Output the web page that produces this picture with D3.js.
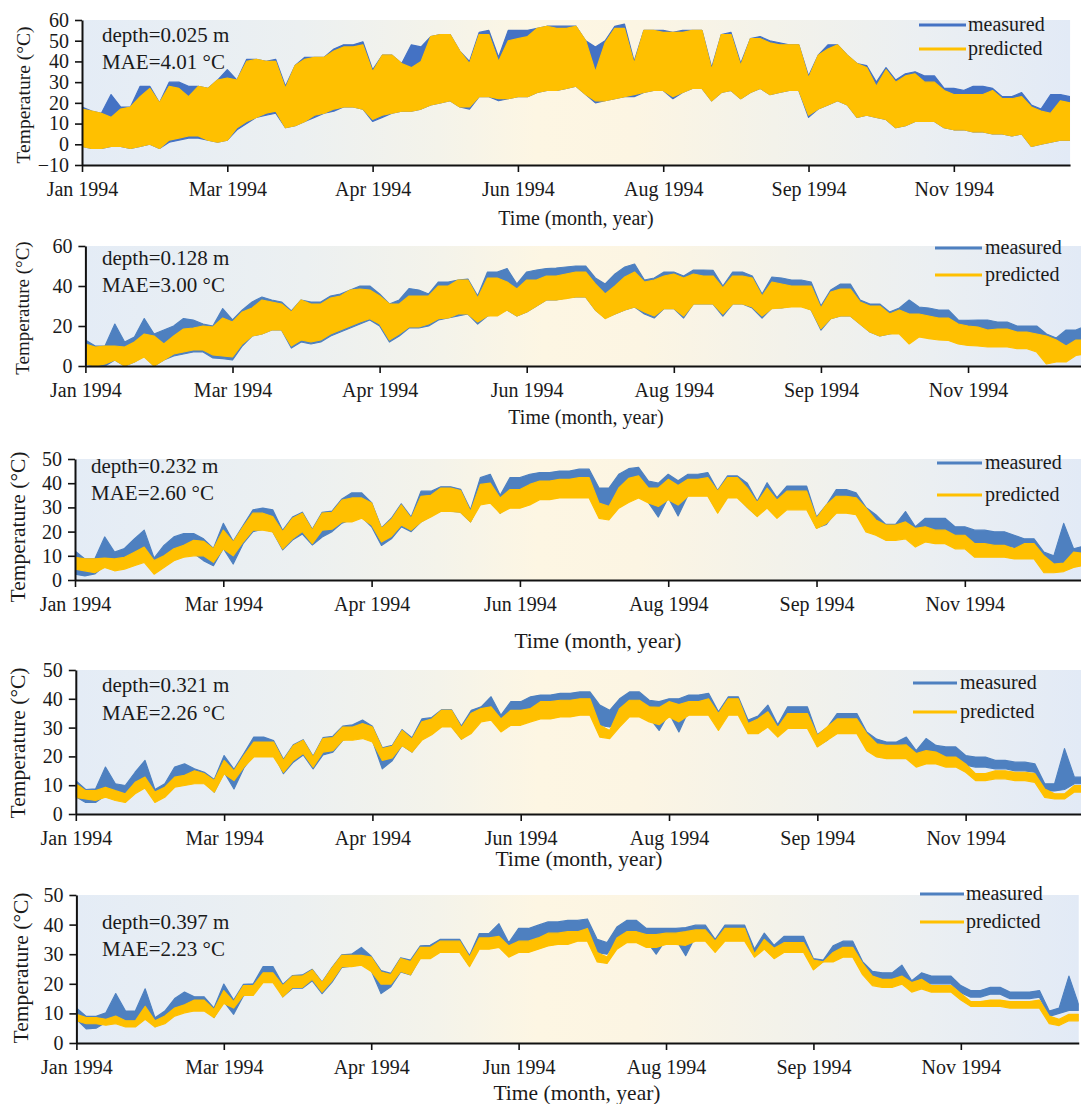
<!DOCTYPE html>
<html>
<head>
<meta charset="utf-8">
<script src="https://cdn.jsdelivr.net/npm/d3@7"></script>
<style>
  html, body { margin: 0; padding: 0; background: #ffffff; }
  svg { display: block; font-family: "Liberation Serif", "Times New Roman", serif; }
</style>
</head>
<body>
<svg id="chart" width="1081" height="1104"></svg>
<script>
// ---- shared axis content ----
const monthLabels = ["Jan 1994", "Mar 1994", "Apr 1994", "Jun 1994", "Aug 1994", "Sep 1994", "Nov 1994"];
const monthTickIndex = [0, 15, 30, 45, 60, 75, 90];
const lastIndex = 102;
const depthLabels = ["0.025", "0.128", "0.232", "0.321", "0.397"];
const maeLabels = ["4.01", "3.00", "2.60", "2.26", "2.23"];
const yDomains = [[-10, 60], [0, 60], [0, 50], [0, 50], [0, 50]];
const yTickValues = [
  [-10, 0, 10, 20, 30, 40, 50, 60],
  [0, 20, 40, 60],
  [0, 10, 20, 30, 40, 50],
  [0, 10, 20, 30, 40, 50],
  [0, 10, 20, 30, 40, 50]
];
const seriesNames = ["measured", "predicted"];

// ---- depth 0.025 m: daily high / low envelopes (°C) ----
const measuredHigh1 = [18,16,15,24,18,18,28,28,20,30,
  30,28,28,27,31,36,31,41,41,40,
  41,28,38,42,42,42,46,48,48,49.5,
  36,43,43,39,48,47,52,53,53,45,
  40,54,55,42,55,55,55,56,57,57,
  57,57,50,47,50,57,58,40,55,55,
  55,54,55,55,55,37,53,54,39,51,
  52,50,49,48,48,33,43,48,48,43,
  39,38,30,37,31,34,35,33,33,27,
  27,26,28,28,27,23,23,25,19,17,
  24,24,23];
const measuredLow1 = [-1,-2,-2,-1,-1,-2,-1,0,-2,1,
  2,3,3,2,1,2,7,10,13,14,
  15,8,9,11,13,15,16,18,18,17,
  11,13,15,16,16,17,19,20,21,18,
  17,23,23,21,22,23,23,25,26,26,
  27,28,24,20,21,22,23,23,25,26,
  26,22,25,27,27,21,25,26,22,25,
  27,24,25,26,26,13,17,19,21,19,
  13,14,13,12,8,9,11,11,11,8,
  7,7,6,6,5,5,4,5,-1,0,
  1,2,2];
const predictedHigh1 = [17,16,15,13,17,18,23,27,20,28,
  27,23,28,27,31,32,31,40,41,40,
  40,27,38,41,42,42,45,47,47,48,
  35,43,43,39,37,40,52,53,53,45,
  39,53,53,40,50,51,52,56,57,56,
  56,57,50,35,49,56,56,39,55,55,
  54,54,54,55,55,36,53,53,38,51,
  51,49,48,48,48,32,43,46,48,43,
  39,37,28,36,30,33,34,30,30,26,
  24,24,24,24,26,22,22,23,18,16,
  15,21,20];
const predictedLow1 = [-1,-2,-2,-1,-1,-2,-1,0,-2,2,
  3,4,4,2,1,2,8,11,13,15,
  16,8,9,11,14,15,17,18,18,17,
  12,14,15,16,16,17,19,20,21,18,
  18,23,23,22,22,23,23,25,26,26,
  27,28,24,21,21,22,23,24,25,26,
  26,23,25,27,27,21,25,26,22,25,
  27,24,25,26,26,14,17,19,21,19,
  13,14,13,12,8,9,11,11,11,8,
  7,7,6,6,5,5,4,5,-1,0,
  1,2,2];

// ---- depth 0.128 m ----
const measuredHigh2 = [13,10,10,21,12,14.5,23.7,16,18,20,
  23.7,23,21,20,28.7,23,28,32,34.5,33,
  32,27.5,33,32,32,35,36,38,40,40,
  36,31,33,38.7,38,36,42,42,43,43.5,
  35,47,47,48.7,41,47,48,48.7,49,49.5,
  50,50,44,41,46,49.5,51,43,44,47,
  47,45,48,48,47.8,40,47,47,45,36,
  44.5,44,43,43,42,30,38,41,41,33,
  31,31,27,29,33,29.5,29,28,28,23,
  22.8,23,23,22,22,20,20,20,16,14,
  18,18,20];
const measuredLow2 = [1,0,0,3,0,2,5,0,3,5,
  6,7,7,4,3.7,3,10,15,16,18,
  18,9,12,11,12,15,17,19,21,23,
  20,12,15,19,19,20,23,24,25,26,
  21,25,26,28,25,27,30,33,33,34,
  34.5,34.5,28,24,26,28,29.5,26,24,28.7,
  28.7,24,31,31,31,25,31,31,29,24,
  29,29,30,30,28,18,23.7,25,25,21,
  17,15,16,17,12,15,14,14,13,12,
  12,12,12,12,11,11,11,9,2,4,
  5,8,9];
const predictedHigh2 = [11,9.5,10,10,9.5,12,16,15,11,15,
  18.5,19,20,19.5,24,22,27,29,33,32,
  31,27,33,31,31,34,35,38,38.5,38,
  35,31,31,35,35,35,40,40,43,43,
  34,44,44,42,38.5,43,43,45,45,46,
  47,47,41,36,40,44.5,47,42,43,45,
  46,44,46,45,45,39,45,45,44,35,
  42,41,40,40,40,29,37,38.5,38.5,32,
  30,30,26,28,26,26,25,24,24,21,
  20,19.5,18,18.5,18.5,17,17,16,15,13,
  10,13,13];
const predictedLow2 = [1,0,1,3,0,2,4.5,0,3,6,
  7,8,8,5.5,5,4.5,11,15,16,18,
  18,10,13,12,13,16,18,20,22,23.7,
  21,13,16,19.5,19.5,21,23.7,24,26,26,
  22,25,25,28,25,27,30,33,33,33.7,
  34.5,34.5,28,23.7,26,28,29.5,27,25,28.7,
  28.7,25,31,31,31,26,31,31,29.5,25,
  28.7,29,29.5,29.5,28,18.7,23.7,25,25,21,
  17,15,16,16,11,14.5,13.7,13,12.8,11,
  10.3,10,9.5,9.5,9.5,8.7,8.7,7,1,2,
  2,5.3,6];

// ---- depth 0.232 m ----
const measuredHigh3 = [12,8.7,8.7,17.8,11.5,13,17,20.6,9,14.3,
  17.8,19.2,19.2,17,13,23.4,16,22.5,29,29.7,
  29,20.5,26,28,21,28,28.5,33.5,36,36,
  32,21.5,25.5,31.5,26,36.7,36.7,38.5,38.5,37.5,
  29,42.3,43.7,35,42.3,42.3,43.7,44.4,44.4,45,
  45,45.8,45.8,38,38,43.7,46,46.5,40.9,40,
  43.7,41,43.7,43.7,44.4,37,43,43,40,32.5,
  40.2,34,38.8,38.8,38.8,26,31,37.4,37.4,36,
  30,27,23,23,28.3,22,25.5,25.5,25.5,22,
  22,20.6,20.6,19.9,19.9,18.5,17,17,11.5,10,
  23.4,12.9,14];
const measuredLow3 = [2.4,1.7,2.5,6,5,6,8,10,3,7,
  10,11,11,8,5.9,13,6.6,15,20,21,
  20,12.5,16.5,19,14.5,17.8,20,23.5,25,26,
  22,14.3,17,22,20,24,26.5,28.5,28.5,28,
  24,32,33,27.6,31,31,32,34,34,35,
  35,35,35,29,29,33,35,36,32,26,
  34,26.5,35,35,35,28,34.5,34.5,30,26.5,
  31,26,30,30,30,21.5,23,28.5,28.5,28,
  21,19.5,17.5,17.5,19,14.5,18,18,18,15.5,
  15.5,14.3,14.3,14.3,14.3,13.5,13,12.5,7,6,
  7,9,10];
const predictedHigh3 = [9.4,8.7,8.7,9,8.7,9.4,11.5,13.6,8,10,
  12.9,14.3,16.4,16,12.9,20.6,15.7,22,27.6,27.6,
  26.2,20,25.5,27.6,20.6,27.6,28,33,33.9,33.9,
  31.8,21.3,25,31,25.5,34.6,35,38,38,37,
  28.3,39.5,40,33.9,37.4,37.4,39.5,40.9,40.9,41.6,
  41.6,42.3,42.3,31.8,30.4,38,42,43,38,38,
  41.6,39,41.6,41.6,42.3,36.7,42.3,42.3,38,32,
  38,33,36.7,36.7,36.7,25.5,31,34.6,34.6,34,
  29.7,24.8,22.7,22.7,24,21.3,22,20.6,20.6,18.5,
  18.5,15,15,14.3,14.3,12.9,15,15,10,6.6,
  7,11.5,11];
const predictedLow3 = [4.5,3.8,3,5.2,3.8,4.5,5.9,7.3,2.4,5.2,
  8,9.4,10,10,7.3,12.9,10,15.7,20.6,20.6,
  19.9,12.9,17,20,15,20.6,21,24,24,25.5,
  22.7,15.7,18,22.7,20.6,24,26,28.3,28.3,28,
  24,31,31.8,27.6,29.7,29.7,31,33.2,33.2,33.9,
  33.9,33.9,33.9,25.5,24.8,29.7,32,33.9,31.8,30.4,
  33.2,31,34.6,34.6,34.6,27.6,33.9,33.9,30,26.2,
  29.7,25.5,29,29,29,21.3,23.4,27.6,27.6,27,
  19.9,18.5,16.4,16.4,17,13.6,15.7,15,15,12.9,
  12.9,9.4,9.4,9.4,9.4,8.7,8.7,8.7,3,3,
  3.5,5.2,6];

// ---- depth 0.321 m ----
const measuredHigh4 = [11.6,8.5,8.7,16.3,10.5,9.9,14.5,18.6,8.5,10.5,
  16.3,17.4,15.7,14.5,12,20.3,15.5,21,26.7,26.7,
  25.5,19,24,25.8,20,26.5,27,30.5,31,32.6,
  30.5,23,23.8,29.3,26.5,33,33.5,36.2,36.2,30.5,
  36,37.2,40.7,34.3,39,39,40.7,41.3,41.3,41.9,
  41.9,42.4,42.4,37.8,36,40,42.4,42.4,39.5,39,
  40,40,41.3,41.3,41.9,35.5,40.7,40.7,32.6,34,
  37.8,31,37.2,37.2,37.2,27.5,30,34.9,34.9,34.9,
  28.5,26,25,25,26.7,22,26.2,23.8,23.3,23.3,
  20.3,19.8,19.8,18.6,18.6,18,18,17.4,10.5,10.5,
  22.7,12.8,12.8];
const measuredLow4 = [6,4,4,6.5,6,6,9,11,4.5,7,
  11,12,12,11,7.6,14.5,8.7,16,20.5,21,
  21,14,18,20.5,15.7,20.5,21.5,25.6,26.5,27.5,
  25.5,15.7,18.5,23.8,21.5,26,28,30.5,30.5,26,
  28.5,33,34,29,32.5,32.5,34,35,35,35.5,
  35.5,36,36,30.8,30.2,33,36,36,33.5,29,
  35,28.5,36,36,36,30,35.5,35.5,29,29,
  32,27.5,31.5,31.5,31.5,23.5,25.6,29.5,29.5,29.5,
  23,21.5,21,21,22,17.5,21,20.5,19.5,19.5,
  17,16.3,16.3,15.7,15.7,15,15,14.5,8,8,
  8.5,10.5,10.5];
const predictedHigh4 = [10.5,8.1,8.1,9.3,8.1,7,11,12.8,7.6,9.3,
  12.8,13.4,15,14,11.6,18.6,15,20.3,25,25,
  25,18.6,23.8,25.6,19.8,26.2,26.5,30.2,30.2,31.4,
  30.2,22.7,23.5,29,26,32,33,36,36,30,
  35,36.6,37.2,33,36,36,36.6,39,39,39.5,
  39.5,40,40,30.8,29,36.6,39.5,39.5,37.2,37,
  39,38,39,39,40,34.9,40,40,31.4,33,
  35.5,30,34.9,34.9,34.9,27.3,30.2,33,33,33,
  27.9,24.4,23.8,23.8,24,21,22,21.5,19.8,19.8,
  17.4,14,14,15,15,14.5,14.5,14,8.7,7,
  7,9.9,9.9];
const predictedLow4 = [5.8,5.2,4.7,5.8,4.7,4,7,9,4,5.8,
  9.3,9.9,10.5,10.5,7.6,14,11.6,16.3,19.8,19.8,
  19.8,14.5,18.6,21,16.3,21.5,22,25.6,25.6,26.2,
  25,18.6,19.5,23.8,21.5,25.6,27.5,30.2,30.2,26,
  28,32,32.6,28.5,30.8,30.8,32,33,33,33.7,
  33.7,34.3,34.3,26.7,26.2,30.2,33.7,33.7,32,31,
  33.7,32,34.3,34.3,34.3,29,34.3,34.3,27.9,27.9,
  30.2,26.7,29.7,29.7,29.7,23.3,25.6,27.9,27.9,27.9,
  22,19.8,19.2,19.2,19.2,16.3,17.4,17.4,16.3,16.3,
  14.5,11.6,11.6,12.2,12.2,11.6,11.6,11,5.8,5.2,
  5.2,7.6,7.6];

// ---- depth 0.397 m ----
const measuredHigh5 = [11.8,9,9,10.2,16.7,10.8,10.8,18.3,8.5,10.8,
  15,17.2,15.6,15.6,11.8,19.9,14.5,19.8,20,25.8,
  25.8,19.8,22.8,23,24.9,20.6,25.5,29.8,30,32.3,
  29.3,24.5,23.5,28.8,28,32.8,33,35,35,35,
  29.5,37,37,40.3,33.9,38.7,38.7,39.8,40.9,40.9,
  41.4,41.4,41.9,35,33.9,39.2,41.4,41.4,38.7,38.7,
  38.7,38.7,39,39.8,39.8,35,39.8,39.8,39.8,31.7,
  37.1,33,36,36,36,28.5,28,32.8,34.4,34.4,
  27.5,24.2,23.7,23.7,26.3,21,23.7,22.6,22.6,22.6,
  19.4,17.7,17.7,18.8,18.8,17.2,17.2,17.2,17.7,10.8,
  11.8,22.6,12.9];
const measuredLow5 = [8,4.8,5,7,8,7.5,7.5,10,5.5,8,
  11.5,13,12.5,12,8.6,14,9.7,16,16.5,21.5,
  21.5,15.6,18.5,18.5,21,16.7,20.5,25.5,26,27.5,
  24.5,16.7,19,24,23,29,29,31,31,31,
  26,33,33,35,30,33,33,35,36,36.5,
  36.5,37,37,30.5,30,35,37,37,34.5,30,
  35,35,29.5,36,36,31.5,36,36,36,29.5,
  33.5,29.5,32.5,32.5,32.5,25,27.5,29,31,31,
  24,21,20.5,20.5,22.5,18.3,20.5,20,20,20,
  17,15.5,15.5,16.5,16.5,15,15,15,15.5,9,
  10,11,11];
const predictedHigh5 = [9.7,8.6,8.6,8,9.1,7.5,7.5,12.4,7.5,9.1,
  11.8,12.9,14.5,14.5,11.3,17.7,14,19.4,19.4,23.7,
  23.7,19.4,22.6,22.6,24.7,20.4,25.3,29.6,29.6,29.6,
  29,24,23.1,28.5,27.5,32.3,32.3,34.4,34.4,34.4,
  29,35.5,35.5,36,32.8,34.4,34.4,35.5,37.1,37.1,
  37.6,37.6,38.7,30.6,29,35.5,37.6,37.6,36.6,36.6,
  37.1,37.1,37.6,38.2,38.2,34.4,38.7,38.7,38.7,30.1,
  35,32,33.9,33.9,33.9,28,27.4,30.6,32.3,32.3,
  26.9,22.6,21.5,21.5,22.6,20.4,21.5,19.4,19.4,19.4,
  16.7,14,14,14.5,14.5,14,14,14,14.5,9.1,
  8,9.7,9.7];
const predictedLow5 = [7.5,6.5,6.5,6,6.5,5.4,5.4,8,5.4,6.5,
  9.1,10.2,10.8,10.8,8.6,13.4,11.8,16.1,16.1,20.4,
  20.4,15.6,18.8,18.8,21.5,17.2,21,25.8,25.8,26.3,
  24.2,19.9,19.9,24.2,23.1,28.5,28.5,30.6,30.6,30.6,
  25.8,31.7,31.7,32.3,29,30.6,30.6,31.7,32.8,33.3,
  33.3,34.4,34.4,27.4,26.9,31.7,33.9,33.9,32.3,32.3,
  33.3,33.3,33,34.4,34.4,30.6,34.4,34.4,34.4,29,
  31.7,28.5,30.6,30.6,30.6,24.7,27.4,27.4,29,29,
  23.1,19.4,18.8,18.8,19.9,17.2,18.3,17.2,17.2,17.2,
  14.5,12.4,12.4,12.4,12.4,11.8,11.8,11.8,11.8,6.5,
  5.9,7.5,7.5];

// Table of series per panel, built from the arrays above
const panelSeries = [
  { mHi: measuredHigh1, mLo: measuredLow1, pHi: predictedHigh1, pLo: predictedLow1 },
  { mHi: measuredHigh2, mLo: measuredLow2, pHi: predictedHigh2, pLo: predictedLow2 },
  { mHi: measuredHigh3, mLo: measuredLow3, pHi: predictedHigh3, pLo: predictedLow3 },
  { mHi: measuredHigh4, mLo: measuredLow4, pHi: predictedHigh4, pLo: predictedLow4 },
  { mHi: measuredHigh5, mLo: measuredLow5, pHi: predictedHigh5, pLo: predictedLow5 }
];

// ---- layout (pixel geometry of each panel) ----
const layout = [
  { x0: 82,   step: 9.687, top: 20,  bottom: 165,  titleX: 576, titleY: 225,  titleSize: 20,
    yLabX: 23, yLabY: 95,  yLabSize: 19.5, noteX: 102, noteY: [42, 69],
    legLine: [919, 966], legTextX: 968, legY: [25, 49], blue: "#4472c4" },
  { x0: 85.4, step: 9.807, top: 246, bottom: 366,  titleX: 586, titleY: 424,  titleSize: 20,
    yLabX: 22, yLabY: 308, yLabSize: 19, noteX: 102, noteY: [265, 292],
    legLine: [935, 982], legTextX: 985, legY: [248, 275], blue: "#4e80c0" },
  { x0: 75,   step: 9.887, top: 459, bottom: 580,  titleX: 598, titleY: 648,  titleSize: 21.5,
    yLabX: 17, yLabY: 527, yLabSize: 21.5, noteX: 91, noteY: [473, 500],
    legLine: [937, 982], legTextX: 985, legY: [463, 495], blue: "#4e80c0" },
  { x0: 75.8, step: 9.887, top: 670, bottom: 814,  titleX: 579, titleY: 866,  titleSize: 21.5,
    yLabX: 17, yLabY: 743, yLabSize: 21.5, noteX: 102, noteY: [692, 720],
    legLine: [913, 957], legTextX: 960, legY: [683, 712], blue: "#4e80c0" },
  { x0: 76.4, step: 9.827, top: 895, bottom: 1043, titleX: 577, titleY: 1100, titleSize: 21.5,
    yLabX: 20, yLabY: 968, yLabSize: 21.5, noteX: 102, noteY: [929, 956],
    legLine: [920, 964], legTextX: 966, legY: [894, 922], blue: "#4e80c0" }
];
const yellow = "#ffc000";
const W = 1081;

const svg = d3.select("#chart");
const defs = svg.append("defs");

// plot background: soft blue at the ends, warm cream in mid-year
const grad = defs.append("linearGradient").attr("id", "plotBg")
  .attr("x1", "0").attr("x2", "1").attr("y1", "0").attr("y2", "0");
[[0, "#e4ecf6"], [0.22, "#ecf0f1"], [0.36, "#f4f3ea"], [0.46, "#fdf6e3"],
 [0.56, "#fcf5e3"], [0.7, "#f3f2ea"], [0.85, "#ebeff2"], [1, "#e2eaf6"]]
  .forEach(([o, c]) => grad.append("stop").attr("offset", o).attr("stop-color", c));

layout.forEach((L, p) => {
  const S = panelSeries[p];
  const xEnd = L.x0 + lastIndex * L.step;
  const right = Math.min(xEnd, W);
  const x = d3.scaleLinear().domain([0, lastIndex]).range([L.x0, xEnd]);
  const y = d3.scaleLinear().domain(yDomains[p]).range([L.bottom, L.top]);
  const g = svg.append("g").attr("class", "panel");

  g.append("rect")
    .attr("x", L.x0).attr("y", L.top)
    .attr("width", right - L.x0).attr("height", L.bottom - L.top)
    .attr("fill", "url(#plotBg)");

  const clipId = "clip" + p;
  defs.append("clipPath").attr("id", clipId).append("rect")
    .attr("x", L.x0).attr("y", L.top - 2)
    .attr("width", right - L.x0).attr("height", L.bottom - L.top + 2);

  // daily range band between low and high envelopes
  const band = (hi, lo) => d3.area()
    .x((d, i) => x(i))
    .y0((d, i) => y(lo[i]))
    .y1((d, i) => y(hi[i]))
    .curve(d3.curveLinear)(hi);

  const plot = g.append("g").attr("clip-path", `url(#${clipId})`);
  plot.append("path").attr("d", band(S.mHi, S.mLo))
    .attr("fill", L.blue).attr("stroke", L.blue).attr("stroke-width", 1.2)
    .attr("stroke-linejoin", "round");
  plot.append("path").attr("d", band(S.pHi, S.pLo))
    .attr("fill", yellow).attr("stroke", yellow).attr("stroke-width", 1.2)
    .attr("stroke-linejoin", "round");

  // axes
  const xAxis = d3.axisBottom(x)
    .tickValues(monthTickIndex)
    .tickFormat((d, i) => monthLabels[i])
    .tickSize(7).tickSizeOuter(0).tickPadding(10);
  const gx = g.append("g").attr("transform", `translate(0,${L.bottom})`).call(xAxis);

  const yAxis = d3.axisLeft(y)
    .tickValues(yTickValues[p])
    .tickSize(7).tickSizeOuter(0).tickPadding(6);
  const gy = g.append("g").attr("transform", `translate(${L.x0},0)`).call(yAxis);

  [gx, gy].forEach(ax => {
    ax.select(".domain").attr("stroke", "#111").attr("stroke-width", 2);
    ax.selectAll(".tick line").attr("stroke", "#111").attr("stroke-width", 1.6);
    ax.selectAll(".tick text").attr("fill", "#1a1a1a")
      .style("font-family", "'Liberation Serif', 'Times New Roman', serif")
      .style("font-size", "20px");
  });

  // axis titles
  g.append("text")
    .attr("x", L.titleX).attr("y", L.titleY)
    .attr("text-anchor", "middle")
    .attr("fill", "#1a1a1a")
    .style("font-size", L.titleSize + "px")
    .text("Time (month, year)");
  g.append("text")
    .attr("transform", `translate(${L.yLabX},${L.yLabY}) rotate(-90)`)
    .attr("text-anchor", "middle").attr("dy", "0.35em")
    .attr("fill", "#1a1a1a")
    .style("font-size", L.yLabSize + "px")
    .text("Temperature (°C)");

  // depth and error notes
  g.append("text").attr("x", L.noteX).attr("y", L.noteY[0])
    .attr("fill", "#1a1a1a").style("font-size", "21px")
    .text(`depth=${depthLabels[p]} m`);
  g.append("text").attr("x", L.noteX).attr("y", L.noteY[1])
    .attr("fill", "#1a1a1a").style("font-size", "21px")
    .text(`MAE=${maeLabels[p]} °C`);

  // legend
  const legendColors = [L.blue, yellow];
  seriesNames.forEach((name, k) => {
    g.append("line")
      .attr("x1", L.legLine[0]).attr("x2", L.legLine[1])
      .attr("y1", L.legY[k]).attr("y2", L.legY[k])
      .attr("stroke", legendColors[k]).attr("stroke-width", 3);
    g.append("text")
      .attr("x", L.legTextX).attr("y", L.legY[k]).attr("dy", "0.3em")
      .attr("fill", "#1a1a1a").style("font-size", "20px")
      .text(name);
  });
});
</script>
</body>
</html>
